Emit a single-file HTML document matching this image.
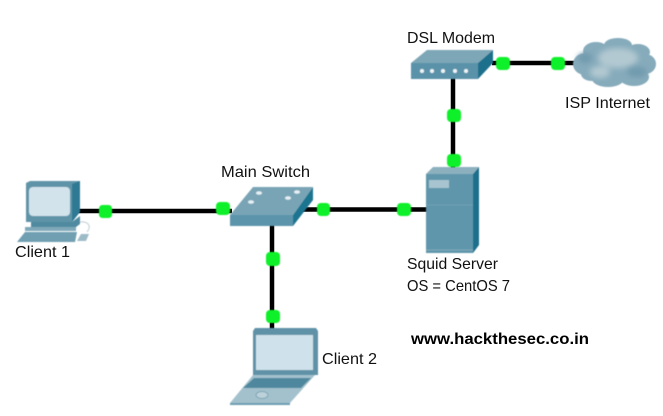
<!DOCTYPE html>
<html>
<head>
<meta charset="utf-8">
<style>
html,body{margin:0;padding:0;background:#fff;width:663px;height:416px;overflow:hidden}
svg{display:block}
text{font-family:"Liberation Sans",sans-serif;font-size:16px;fill:#111}
</style>
</head>
<body>
<svg width="663" height="416" viewBox="0 0 663 416" xmlns="http://www.w3.org/2000/svg">
<defs>
<filter id="b"><feGaussianBlur stdDeviation="0.5"/></filter>
<filter id="c"><feGaussianBlur stdDeviation="3"/></filter>
</defs>

<!-- links -->
<g stroke="#000" stroke-width="4.5" fill="none">
<path d="M78 211H232"/>
<path d="M300 209.500H428"/>
<path d="M272 222V330"/>
<path d="M453 76V168"/>
<path d="M492 63H576"/>
</g>

<!-- client 1 -->
<g filter="url(#b)">
<path d="M26 183L30 181H80V212L72 222H26Z" fill="#5f94a8"/>
<path d="M72 184L80 181V212L72 222Z" fill="#2f7a94"/>
<rect x="29" y="187" width="41" height="29" rx="4" fill="#d3e3ec"/>
<path d="M31 222H72L80 216V224L72 230H31Z" fill="#4f8aa0"/>
<path d="M25 227H76V231H25Z" fill="#7fa9b9"/>
<path d="M17 242L25 232H77L75 242Z" fill="#6f9fb1"/>
<path d="M80 222C88 221 92 226 87 232" stroke="#c9d6dc" stroke-width="1.200" fill="none"/>
<path d="M77 241L81 234H89L86 241Z" fill="#9dbbc7"/>
</g>

<!-- switch -->
<g filter="url(#b)">
<path d="M230 215L253 187H313L293 215Z" fill="#79a4b5"/>
<path d="M230 215H293V226H230Z" fill="#5c95ab"/>
<path d="M293 215L313 187V200L293 226Z" fill="#1f7490"/>
<g fill="#e6f0f4">
<ellipse cx="259" cy="193" rx="3" ry="1.800"/>
<ellipse cx="297" cy="192" rx="3" ry="1.800"/>
<ellipse cx="251" cy="202" rx="3" ry="1.800"/>
<ellipse cx="288" cy="198" rx="3" ry="1.800"/>
</g>
</g>

<!-- modem -->
<g filter="url(#b)">
<path d="M411 63L427 50H493L478 63Z" fill="#7da6b6"/>
<path d="M411 63H478V79H411Z" fill="#5a93a9"/>
<path d="M478 63L493 50V63L478 79Z" fill="#1f6f8b"/>
<g fill="#eef4f6">
<circle cx="422" cy="71" r="2"/><circle cx="432" cy="71" r="2"/><circle cx="443" cy="71" r="2"/><circle cx="455" cy="71" r="2"/><circle cx="466" cy="71" r="2"/>
</g>
</g>

<!-- cloud -->
<g filter="url(#b)">
<g fill="#86abbb">
<ellipse cx="585" cy="64" rx="12" ry="11"/>
<ellipse cx="596" cy="51" rx="13" ry="9"/>
<ellipse cx="618" cy="45" rx="14" ry="7"/>
<ellipse cx="638" cy="52" rx="12" ry="8"/>
<ellipse cx="645" cy="64" rx="11" ry="10"/>
<ellipse cx="634" cy="77" rx="15" ry="9"/>
<ellipse cx="608" cy="79" rx="16" ry="8"/>
<ellipse cx="592" cy="74" rx="11" ry="7"/>
<ellipse cx="615" cy="62" rx="30" ry="18"/>
</g>
<g filter="url(#c)" fill="#b3c9d2">
<ellipse cx="618" cy="58" rx="20" ry="10"/>
<ellipse cx="600" cy="72" rx="10" ry="6"/>
</g>
<g filter="url(#c)" fill="#6f9aad">
<ellipse cx="585" cy="58" rx="7" ry="5"/>
<ellipse cx="637" cy="72" rx="10" ry="5"/>
</g>
</g>

<!-- server -->
<g filter="url(#b)">
<path d="M426 174L433 167H479L473 174Z" fill="#8cb0be"/>
<path d="M426 174H473V253H426Z" fill="#5f96ab"/>
<path d="M473 174L479 167V245L473 253Z" fill="#1a6f8c"/>
<rect x="429" y="180" width="20" height="8" fill="#a7c4d0"/>
<path d="M426 205H473" stroke="#6fa2b5" stroke-width="1"/>
<path d="M426 250H473" stroke="#82abbb" stroke-width="1"/>
</g>

<!-- client 2 laptop -->
<g filter="url(#b)">
<path d="M253 331L255 328H316L318 331V375H253Z" fill="#5f92a7"/>
<rect x="256" y="335" width="57" height="35" fill="#cfe1ea"/>
<path d="M253 375H315L290 403H230Z" fill="#a3c1cd"/>
<path d="M254 378H311L301 388H243Z" fill="#4f879e"/>
<path d="M230 403H290V405H230Z" fill="#6d9db0"/>
<ellipse cx="262" cy="395" rx="6" ry="3.500" fill="#bcd2da" stroke="#7fa5b4"/>
</g>

<!-- connection lights -->
<g fill="#0bf02a" filter="url(#b)">
<rect x="99" y="205" width="13" height="13" rx="3.500"/>
<rect x="216" y="202" width="14" height="13" rx="4"/>
<rect x="317" y="203" width="13" height="13" rx="4"/>
<rect x="397" y="203" width="14" height="13" rx="4"/>
<rect x="266" y="252" width="14" height="14" rx="4"/>
<rect x="266" y="310" width="14" height="13" rx="4"/>
<rect x="447" y="109" width="14" height="13" rx="4"/>
<rect x="447" y="154" width="14" height="13" rx="4"/>
<rect x="496" y="57" width="14" height="13" rx="4"/>
<rect x="551" y="57" width="14" height="13" rx="4"/>
</g>

<!-- labels -->
<text x="15" y="257" textLength="55" lengthAdjust="spacingAndGlyphs">Client 1</text>
<text x="221" y="177" textLength="89" lengthAdjust="spacingAndGlyphs">Main Switch</text>
<text x="407" y="43" textLength="88" lengthAdjust="spacingAndGlyphs">DSL Modem</text>
<text x="565" y="108" textLength="85" lengthAdjust="spacingAndGlyphs">ISP Internet</text>
<text x="407" y="269" textLength="91" lengthAdjust="spacingAndGlyphs">Squid Server</text>
<text x="407" y="291" textLength="103" lengthAdjust="spacingAndGlyphs">OS = CentOS 7</text>
<text x="322" y="364" textLength="55" lengthAdjust="spacingAndGlyphs">Client 2</text>
<text x="411" y="344" textLength="178" lengthAdjust="spacingAndGlyphs" style="font-weight:bold;font-size:16px;fill:#000">www.hackthesec.co.in</text>
</svg>
</body>
</html>
